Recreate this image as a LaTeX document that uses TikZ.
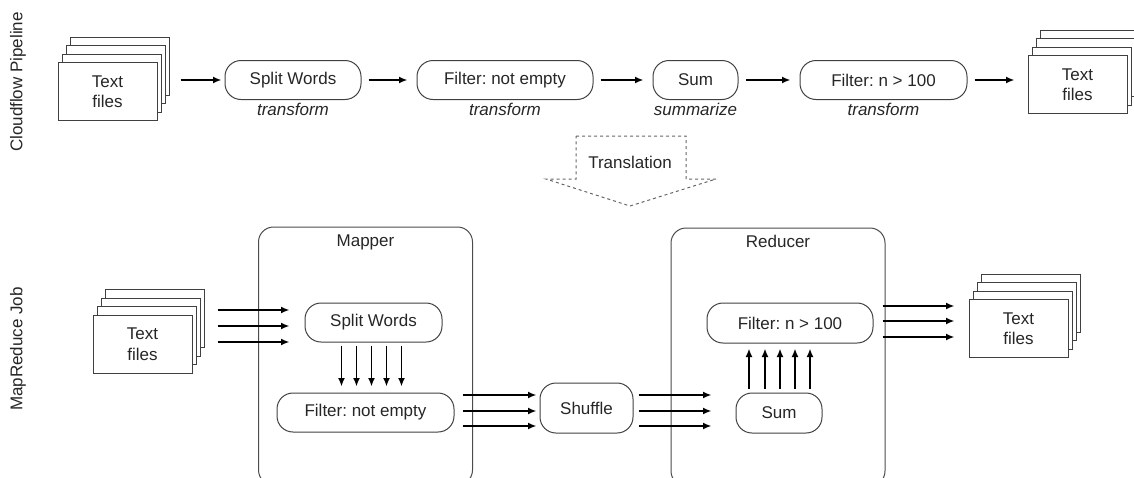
\documentclass[tikz,border=0pt]{standalone}
\usepackage{fontspec}
\setmainfont{Liberation Sans}
\usepackage{tikz}
\usetikzlibrary{arrows.meta,positioning,shadows,calc}
\frenchspacing

\begin{document}
\begin{tikzpicture}
[x=1pt,y=-1pt,>={Latex[length=8.5pt,width=7pt]},line width=1pt,
 font=\fontsize{17}{20.5}\selectfont,text=black!85]
\tikzstyle{stage}=[draw=black!75,rounded corners=16pt,minimum height=39pt,inner sep=2pt]
\tikzstyle{kind}=[font=\fontsize{17}{20}\selectfont\itshape,inner sep=1pt]
\tikzstyle{files}=[draw=black!75,fill=white,minimum width=99pt,minimum height=58pt,align=center,
  copy shadow={shadow xshift=12.9pt,shadow yshift=25.5pt,draw=black!75},
  copy shadow={shadow xshift=8.6pt,shadow yshift=17pt,draw=black!75},
  copy shadow={shadow xshift=4.3pt,shadow yshift=8.5pt,draw=black!75}]
\tikzstyle{job}=[draw=black!70,rounded corners=15pt,minimum width=214pt,minimum height=258pt]
\tikzstyle{flow}=[->,line width=1.8pt,shorten <=7pt,shorten >=9pt]
\tikzstyle{many}=[->,line width=1.8pt]
\useasboundingbox (0,0) rectangle (1134,477);

% cloudflow pipeline
\node[rotate=90] (lblA) at (18,82) {Cloudflow Pipeline};
\node[files] (filesA) at (107.5,91.5) {Text\\files};
\node[stage,minimum width=136pt] (splitA) at (293,80) {Split Words};
\node[stage,minimum width=176pt] (filtA) at (505,80) {Filter: not empty};
\node[stage,minimum width=85pt] (sumA) at (695.5,80) {Sum};
\node[stage,minimum width=167pt] (filtB) at (883.5,80) {Filter: n > 100};
\node[files] (filesB) at (1077.5,84.5) {Text\\files};
\node[kind,below=2pt of splitA] {transform};
\node[kind,below=2pt of filtA] {transform};
\node[kind,below=2pt of sumA] {summarize};
\node[kind,below=2pt of filtB] {transform};

\draw[flow,shorten <=23pt,shorten >=3pt] (splitA.west -| filesA.east) -- (splitA.west);
\draw[flow] (splitA) -- (filtA);
\draw[flow] (filtA) -- (sumA);
\draw[flow] (sumA) -- (filtB);
\draw[flow,shorten >=13pt] (filtB.east) -- (filtB.east -| filesB.west);

% translation
\draw[dashed,draw=black!60] (576,136) -- (686,136) -- (686,179) -- (716,179) -- (630,206)
  -- (546,179) -- (576,179) -- cycle;
\node (trans) at (630,162) {Translation};

% mapreduce job
\node[rotate=90] (lblB) at (18,349) {MapReduce Job};
\node[job] (mapper) at (365.5,356) {};
\node[below=4pt of mapper.north] {Mapper};
\node[job] (reducer) at (778,357) {};
\node[below=4pt of reducer.north] {Reducer};
\node[files] (filesC) at (142.5,344) {Text\\files};
\node[stage,minimum width=137pt] (splitB) at (373.5,322.5) {Split Words};
\node[stage,minimum width=177pt] (filtC) at (365.5,412.5) {Filter: not empty};
\node[stage,minimum width=93pt,minimum height=50pt] (shuffle) at (586.5,408) {Shuffle};
\node[stage,minimum width=86pt,minimum height=40pt] (sumB) at (779,413) {Sum};
\node[stage,minimum width=166pt,minimum height=40pt] (filtD) at (790,323) {Filter: n > 100};
\node[files] (filesD) at (1018.5,328.5) {Text\\files};

\foreach \dy in {-12.5,3.5,19.5}
  \draw[many] ($(filesC.east |- splitB.west)+(25,\dy)$) -- ($(splitB.west)+(-15,\dy)$);
\foreach \dx in {-32,-17,-2,13,28}
  \draw[many] ($(splitB.south)+(\dx,3)$) -- ($(filtC.north -| splitB.south)+(\dx,-6)$);
\foreach \dy in {-13,3,18}
  \draw[many] ($(filtC.east |- shuffle.west)+(8,\dy)$) -- ($(shuffle.west)+(-3,\dy)$);
\foreach \dy in {-13,3,18}
  \draw[many] ($(shuffle.east)+(5,\dy)$) -- ($(sumB.west |- shuffle.west)+(-24,\dy)$);
\foreach \dx in {-30,-14,1,16,31}
  \draw[many] ($(sumB.north)+(\dx,-4)$) -- ($(filtD.south -| sumB.north)+(\dx,5)$);
\foreach \dy in {-17,-2,14}
  \draw[many] ($(filtD.east)+(9,\dy)$) -- ($(filesD.west |- filtD.east)+(-14,\dy)$);
\end{tikzpicture}
\end{document}
